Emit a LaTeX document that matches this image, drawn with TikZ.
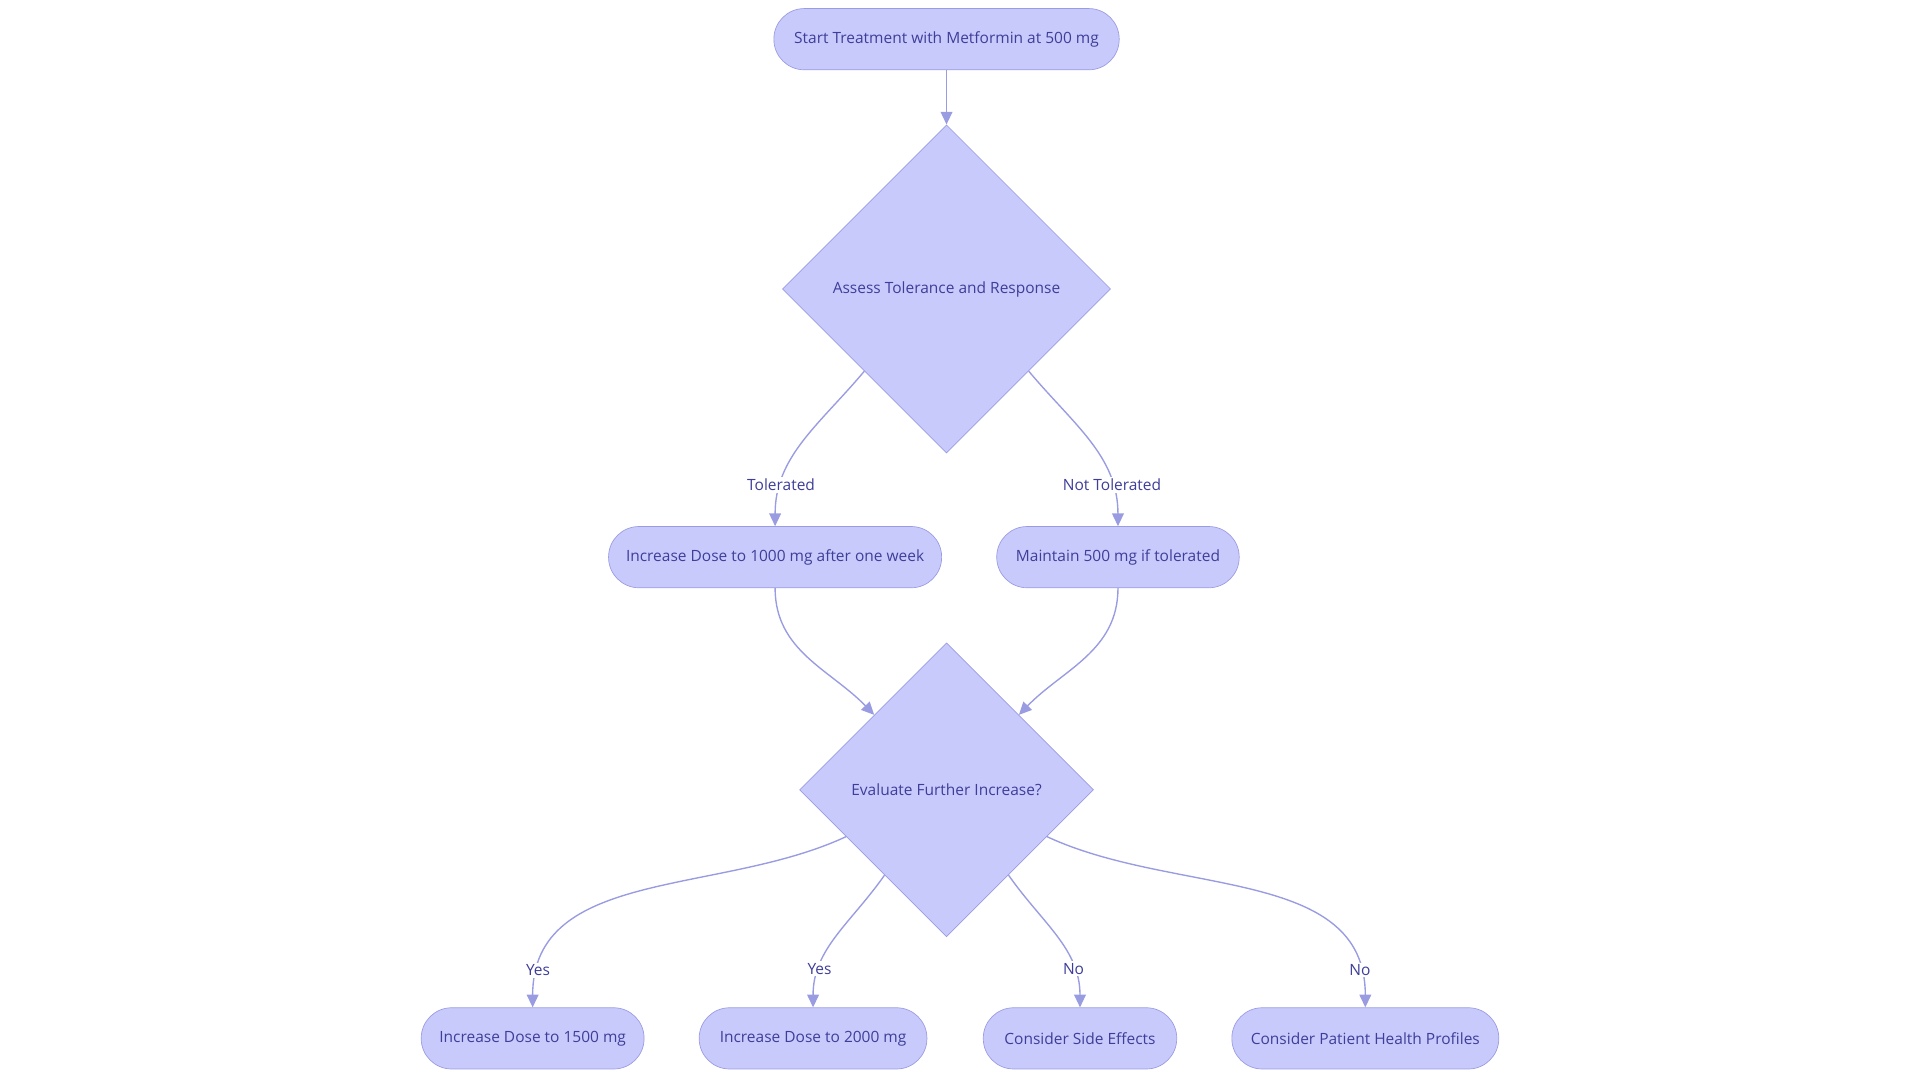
\documentclass[tikz,border=0pt]{standalone}
\usepackage{fontspec}
\setmainfont{Open Sans}
\usetikzlibrary{arrows.meta,positioning,shapes.geometric}
\definecolor{boxfill}{HTML}{C8CAFC}
\definecolor{boxline}{HTML}{9A9CE2}
\definecolor{boxtext}{HTML}{3E3E9A}
\tikzset{
  stage/.style={draw=boxline, fill=boxfill, text=boxtext, rounded corners=6.2mm,
    minimum height=12.5mm, inner sep=0pt, font=\fontsize{9}{11}\selectfont},
  check/.style={diamond, aspect=1, draw=boxline, fill=boxfill, text=boxtext,
    inner sep=0pt, font=\fontsize{9}{11}\selectfont},
  flow/.style={draw=boxline, line width=0.8pt, -{Triangle[length=2.6mm,width=2.4mm]}},
  lbl/.style={fill=white, text=boxtext, inner sep=1pt, font=\fontsize{9}{11}\selectfont}
}
\begin{document}
\begin{tikzpicture}[x=0.25mm, y=-0.25mm]
  \useasboundingbox (0,0) rectangle (1568,884);

  % nodes
  \node[stage, minimum width=70.5mm] (start) at (773,32) {Start Treatment with Metformin at 500 mg};
  \node[check, minimum width=67mm, minimum height=67mm] (assess) at (773,236) {Assess Tolerance and Response};
  \node[stage, minimum width=68mm] (dose1000) at (633,455) {Increase Dose to 1000 mg after one week};
  \node[stage, minimum width=49.5mm] (keep500) at (913,455) {Maintain 500 mg if tolerated};
  \node[check, minimum width=60mm, minimum height=60mm] (further) at (773,645) {Evaluate Further Increase?};
  \node[stage, minimum width=45.5mm] (dose1500) at (435,848) {Increase Dose to 1500 mg};
  \node[stage, minimum width=46.5mm] (dose2000) at (664,848) {Increase Dose to 2000 mg};
  \node[stage, minimum width=39.5mm] (side) at (882,848) {Consider Side Effects};
  \node[stage, minimum width=54.5mm] (health) at (1115,848) {Consider Patient Health Profiles};

  % connectors
  \draw[flow] (start) -- (assess.north);
  \draw[flow] (assess.south west) to[out=-130,in=90] node[lbl, pos=0.78] {Tolerated} (dose1000.north);
  \draw[flow] (assess.south east) to[out=-50,in=90] node[lbl, pos=0.78] {Not Tolerated} (keep500.north);
  \draw[flow] (dose1000.south) to[out=-90,in=134] (further.134);
  \draw[flow] (keep500.south) to[out=-90,in=46] (further.46);
  \draw[flow] (further.205) to[out=-155,in=90] node[lbl, pos=0.9] {Yes} (dose1500.north);
  \draw[flow] (further.234) to[out=-125,in=90] node[lbl, pos=0.75] {Yes} (dose2000.north);
  \draw[flow] (further.306) to[out=-55,in=90] node[lbl, pos=0.75] {No} (side.north);
  \draw[flow] (further.335) to[out=-25,in=90] node[lbl, pos=0.9] {No} (health.north);
\end{tikzpicture}
\end{document}
